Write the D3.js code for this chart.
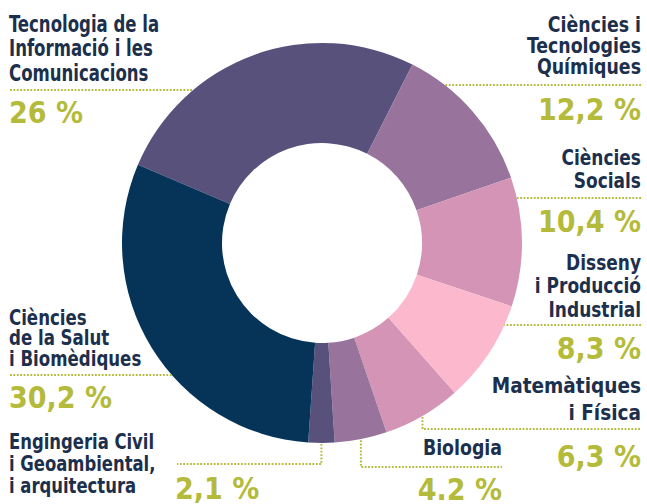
<!DOCTYPE html>
<html>
<head>
<meta charset="utf-8">
<script src="https://cdn.jsdelivr.net/npm/d3@7"></script>
<style>
  body { margin: 0; background: #fff; }
  .lbl { font-family: "DejaVu Sans Condensed", "DejaVu Sans", sans-serif; font-weight: bold; fill: #1c2f4c; }
  .pct { font-family: "DejaVu Sans Condensed", "DejaVu Sans", sans-serif; font-weight: bold; fill: #b4bb3b; }
</style>
</head>
<body>
<svg id="chart" width="647" height="504"></svg>
<script>
// data
var categories = ["TIC", "Quimiques", "Socials", "Disseny", "Matematiques", "Biologia", "Civil", "Salut"];
var shares = [26, 12.2, 10.4, 8.3, 6.3, 4.2, 2.1, 30.2];
var labelLines = [
  ["Tecnologia de la", "Informació i les", "Comunicacions"],
  ["Ciències i", "Tecnologies", "Químiques"],
  ["Ciències", "Socials"],
  ["Disseny", "i Producció", "Industrial"],
  ["Matemàtiques", "i Física"],
  ["Biologia"],
  ["Engingeria Civil", "i Geoambiental,", "i arquitectura"],
  ["Ciències", "de la Salut", "i Biomèdiques"]
];
var shareLabels = ["26 %", "12,2 %", "10,4 %", "8,3 %", "6,3 %", "4.2 %", "2,1 %", "30,2 %"];
var colors = ["#58517c", "#98739b", "#d394b6", "#fcb9ce", "#d394b6", "#98739b", "#58517c", "#053458"];

// label placement (squeeze = horizontal narrowing of the label face)
var layout = [
  {anchor: "start", x: 9,   y: 32,  gap: 24.5, size: 23, squeeze: 0.8,  lead: "h", lineY: 90,  end: 10,  numX: 9,   numY: 123},
  {anchor: "end",   x: 641, y: 32,  gap: 21,   size: 21, squeeze: 0.92, lead: "h", lineY: 85,  end: 641, numX: 641, numY: 120},
  {anchor: "end",   x: 641, y: 165, gap: 23,   size: 21, squeeze: 0.9,  lead: "h", lineY: 198, end: 641, numX: 641, numY: 232},
  {anchor: "end",   x: 641, y: 270, gap: 23.5, size: 21, squeeze: 0.9,  lead: "h", lineY: 325, end: 641, numX: 641, numY: 359},
  {anchor: "end",   x: 641, y: 393, gap: 27,   size: 21, squeeze: 0.98, lead: "v", lineY: 429, end: 641, numX: 641, numY: 467},
  {anchor: "end",   x: 502, y: 455, gap: 22,   size: 21, squeeze: 0.92, lead: "v", lineY: 467, end: 502, numX: 502, numY: 500},
  {anchor: "start", x: 9,   y: 449, gap: 22,   size: 21, squeeze: 0.87, lead: "v", lineY: 464, end: 177, numX: 175, numY: 499},
  {anchor: "start", x: 9,   y: 325, gap: 20.5, size: 21, squeeze: 0.88, lead: "h", lineY: 375, end: 10,  numX: 9,   numY: 408}
];

var cx = 322, cy = 243, outerR = 200, innerR = 100;

var svg = d3.select("#chart");
var g = svg.append("g").attr("transform", "translate(" + cx + "," + cy + ")");

var start = -67 * Math.PI / 180;
var pie = d3.pie().sort(null).value(function(d) { return d; })
  .startAngle(start).endAngle(start + 2 * Math.PI);
var arc = d3.arc().innerRadius(innerR).outerRadius(outerR);
var arcs = pie(shares);

g.selectAll("path.slice")
  .data(arcs)
  .enter().append("path")
  .attr("class", "slice")
  .attr("d", arc)
  .attr("fill", function(d, i) { return colors[i]; });

// leader lines
function leaderPath(d, i) {
  var L = layout[i];
  if (L.lead === "h") {
    var dy = L.lineY - cy;
    var dx = Math.sqrt(outerR * outerR - dy * dy);
    var ringX = L.anchor === "start" ? cx - dx : cx + dx;
    return "M" + L.end + "," + L.lineY + "H" + ringX;
  }
  var a = (d.startAngle + d.endAngle) / 2;
  var x = cx + outerR * Math.sin(a);
  var y = cy - outerR * Math.cos(a);
  return "M" + x + "," + (y + 1) + "V" + L.lineY + "H" + L.end;
}

svg.selectAll("path.lead")
  .data(arcs)
  .enter().append("path")
  .attr("class", "lead")
  .attr("d", leaderPath)
  .attr("fill", "none")
  .attr("stroke", "#b4bb3b")
  .attr("stroke-width", 2)
  .attr("stroke-dasharray", "1.8 1.6");

// category labels
var labels = svg.selectAll("text.lbl")
  .data(categories)
  .enter().append("text")
  .attr("class", "lbl")
  .attr("text-anchor", function(d, i) { return layout[i].anchor; })
  .attr("font-size", function(d, i) { return layout[i].size; })
  .attr("transform", function(d, i) {
    var L = layout[i];
    return "translate(" + (L.x * (1 - L.squeeze)) + ",0) scale(" + L.squeeze + ",1)";
  });

labels.each(function(d, i) {
  var L = layout[i];
  d3.select(this).selectAll("tspan")
    .data(labelLines[i])
    .enter().append("tspan")
    .attr("x", L.x)
    .attr("y", function(t, j) { return L.y + j * L.gap; })
    .text(function(t) { return t; });
});

// share values
svg.selectAll("text.pct")
  .data(shareLabels)
  .enter().append("text")
  .attr("class", "pct")
  .attr("font-size", 30)
  .attr("text-anchor", function(d, i) { return layout[i].anchor; })
  .attr("x", function(d, i) { return layout[i].numX; })
  .attr("y", function(d, i) { return layout[i].numY; })
  .text(function(d) { return d; });
</script>
</body>
</html>
